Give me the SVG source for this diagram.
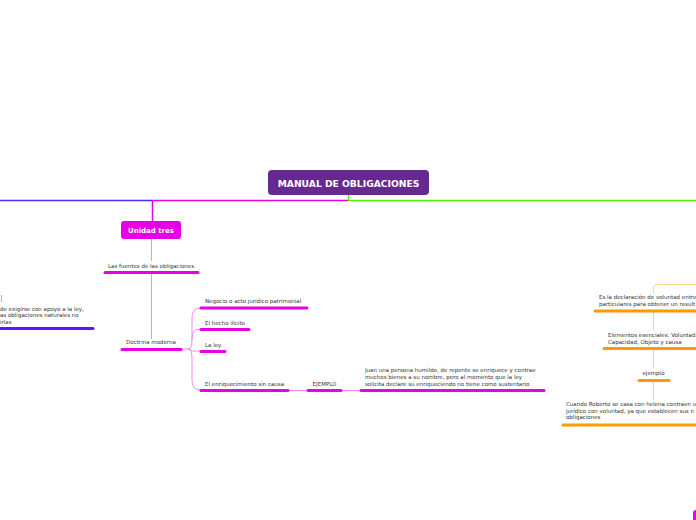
<svg xmlns="http://www.w3.org/2000/svg" width="696" height="520" viewBox="0 0 696 520">
<style>
text{font-family:"DejaVu Sans",Verdana,sans-serif;fill:#333;font-size:5.5px}
.t{font-size:9.2px;font-weight:bold;fill:#fff}
.u{font-size:7px;font-weight:bold;fill:#fff}
.m{stroke:#e600e6;stroke-width:3;stroke-linecap:round;fill:none}
.ml{stroke:#f28cf2;stroke-width:1;fill:none}
.o{stroke:#ff9900;stroke-width:3;stroke-linecap:round;fill:none}
.ol{stroke:#ffd28a;stroke-width:1;fill:none}
.p{stroke:#5a14ff;stroke-width:3;stroke-linecap:round;fill:none}
</style>
<rect width="696" height="520" fill="#fff"/>
<g id="connectors">
<path d="M348.5,195 V200.5 H696" stroke="#55ee00" stroke-width="1.5" fill="none"/>
<path d="M348,200.5 H152.5 V221" stroke="#e600e6" stroke-width="1.5" fill="none"/>
<path d="M0,200.5 H152" stroke="#4433ff" stroke-width="1.5" fill="none"/>
<path d="M151.5,239 V261 M151.5,273 V339" class="ml"/>
<path d="M182,349 H188 Q192,349 192,340 V318 Q192,308 200,308 M192,340 V338 Q192,329 200,329 M188,349 Q192,349 192,351 Q192,351 200,351 M188,349 Q192,349 192,358 V380 Q192,390 200,390" class="ml"/>
<path d="M289,390.5 H307 M342,390.5 H360" class="ml"/>
<path d="M1.5,295 V302" stroke="#b9a0ff" stroke-width="1" fill="none"/>
<path d="M696,284.5 H658 Q653.5,284.5 653.5,289 V293 M653.5,311 V330 M653.5,348 V368 M653.5,380 V400" class="ol"/>
</g>
<g id="title">
<rect x="268" y="170" width="161" height="25" rx="4" fill="#65298f"/>
<text x="348.5" y="186.5" text-anchor="middle" class="t">MANUAL DE OBLIGACIONES</text>
</g>
<g id="unidad-tres">
<rect x="121" y="221" width="60" height="18" rx="3" fill="#e600e6"/>
<text x="151" y="232.5" text-anchor="middle" class="u">Unidad tres</text>
</g>
<g id="fuentes">
<text x="151" y="268" text-anchor="middle">Las fuentes de las obligaciones</text>
<path d="M105,272.5 H198" class="m"/>
</g>
<g id="doctrina">
<text x="151" y="344" text-anchor="middle">Doctrina moderna</text>
<path d="M122,349.5 H181" class="m"/>
</g>
<g id="negocio">
<text x="205" y="302.5">Negocio o acto jurídico patrimonial</text>
<path d="M201,308 H307" class="m"/>
</g>
<g id="hecho">
<text x="205" y="324.5">El hecho ilícito</text>
<path d="M201,329.5 H249" class="m"/>
</g>
<g id="ley">
<text x="205" y="346.5">La ley</text>
<path d="M201,351.5 H225" class="m"/>
</g>
<g id="enriquecimiento">
<text x="205" y="385.5">El enriquecimiento sin causa</text>
<path d="M201,390.5 H288" class="m"/>
</g>
<g id="ejemplo1">
<text x="324.5" y="385.5" text-anchor="middle">EJEMPLO</text>
<path d="M308,390.5 H341" class="m"/>
</g>
<g id="juan">
<text x="365" y="372">Juan una persona humilde, de repente se enriquece y contrae</text>
<text x="365" y="379">muchos bienes a su nombre, pero al momento que la ley</text>
<text x="365" y="386">solicita declare su enriqueciendo no tiene como sustentario</text>
<path d="M361,390.5 H544" class="m"/>
</g>
<g id="left-node">
<text x="0" y="310.5">de exigirse con apoyo a la ley,</text>
<text x="0" y="317">as obligaciones naturales no</text>
<text x="0" y="323.5">irlas</text>
<path d="M-2,328.5 H93" class="p"/>
</g>
<g id="declaracion">
<text x="599" y="298.5">Es la declaración de voluntad entre</text>
<text x="599" y="305.5">particulares para obtener un result</text>
<path d="M595,311 H700" class="o"/>
</g>
<g id="elementos">
<text x="608" y="336.5">Elementos esenciales: Voluntad,</text>
<text x="608" y="343.5">Capacidad, Objeto y causa</text>
<path d="M604,348.5 H700" class="o"/>
</g>
<g id="ejemplo2">
<text x="653.5" y="374.5" text-anchor="middle">ejemplo</text>
<path d="M639,380.5 H669" class="o"/>
</g>
<g id="cuando">
<text x="566" y="406">Cuando Roberto se casa con helena contraen u</text>
<text x="566" y="412.5">jurídico con voluntad, ya que establecen sus n</text>
<text x="566" y="419">obligaciones</text>
<path d="M563,425 H700" class="o"/>
</g>
<g id="bottom-right">
<rect x="693" y="510" width="20" height="18" rx="3" fill="#e600e6"/>
</g>
</svg>
